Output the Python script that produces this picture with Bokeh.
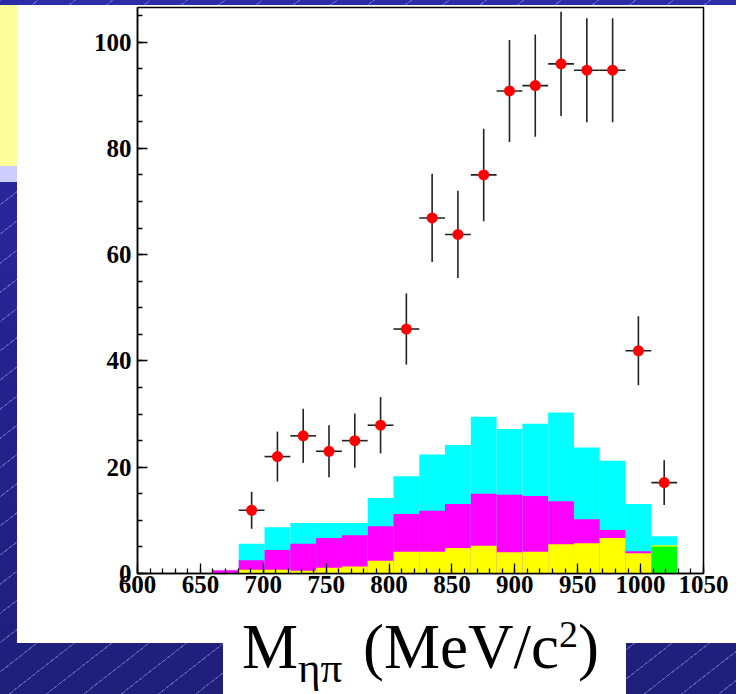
from bokeh.plotting import figure
from bokeh.models import Range1d, SingleIntervalTicker, Div
from bokeh.layouts import column, row
from bokeh.embed import file_html
from bokeh.resources import INLINE

# ---- data ----
bin_edges = [660, 680.5, 701, 721.5, 742, 762.5, 783, 803.5, 824, 844.5,
             865, 885.5, 906, 926.5, 947, 967.5, 988, 1008.5, 1029]
cyan_top = [0.0, 5.6, 8.7, 9.5, 9.5, 9.5, 14.2, 18.3, 22.4, 24.2,
            29.5, 27.2, 28.2, 30.3, 23.7, 21.2, 13.1, 7.0]
magenta_top = [0.6, 2.5, 4.4, 5.6, 6.7, 7.2, 8.9, 11.2, 11.8, 13.1,
               15.0, 14.8, 14.6, 13.6, 10.2, 8.2, 4.2, 0.0]
yellow_top = [0.0, 0.7, 0.7, 0.5, 1.1, 1.3, 2.4, 4.1, 4.1, 4.8,
              5.2, 4.0, 4.1, 5.5, 5.7, 6.7, 3.8, 5.3]
green_top = [0, 0, 0, 0, 0, 0, 0, 0, 0, 0, 0, 0, 0, 0, 0, 0, 0, 5.1]

data_y = [11.9, 22.0, 25.9, 23.0, 25.0, 27.9, 46.0, 66.9, 63.8, 75.0,
          90.8, 91.8, 95.9, 94.7, 94.7, 41.9, 17.1]
data_err = [3.5, 4.7, 5.1, 4.9, 5.1, 5.3, 6.7, 8.3, 8.2, 8.7,
            9.6, 9.6, 9.8, 9.8, 9.8, 6.5, 4.2]
first_data_bin = 1

x_tick_interval = 50
y_tick_interval = 20

FONT = "Liberation Serif"

# ---- slide background CSS ----
STRIPES = ("repeating-linear-gradient(142deg, rgba(190,190,255,0.38) 0px, "
           "rgba(190,190,255,0.38) 1px, transparent 1px, transparent 23px)")
BLUEGRAD = "linear-gradient(180deg, #2c2ca8 0px, #22228c 400px, #1f1f7a 694px)"

top_strip = Div(width=736, height=5, margin=0, styles={
    "background-image": STRIPES + ", " + BLUEGRAD,
    "background-attachment": "fixed, fixed"})
left_strip = Div(width=17, height=610, margin=0, styles={
    "background-image": ("linear-gradient(180deg, #ffff99 0px, #ffff99 161px, #ccccff 161px, "
                         "#ccccff 177px, transparent 177px), " + STRIPES + ", " + BLUEGRAD),
    "background-attachment": "scroll, fixed, fixed",
})

# ---- figure ----
p = figure(width=719, height=610, output_backend="svg", toolbar_location=None,
           x_range=Range1d(600, 1050), y_range=Range1d(0, 106.5),
           min_border_left=120, min_border_right=33, min_border_top=2,
           min_border_bottom=42, margin=0)
p.background_fill_color = "white"
p.border_fill_color = "white"
p.outline_line_color = "black"
p.outline_line_width = 1.5
p.xgrid.visible = False
p.ygrid.visible = False

lefts = bin_edges[:-1]
rights = bin_edges[1:]
for tops, col in [(cyan_top, "#00ffff"), (magenta_top, "#ff00ff"),
                  (yellow_top, "#ffff00"), (green_top, "#00ff00")]:
    p.quad(left=lefts, right=rights, bottom=0, top=tops,
           fill_color=col, line_color=None)

centers = [(bin_edges[i] + bin_edges[i + 1]) / 2 for i in range(len(bin_edges) - 1)]
xs = centers[first_data_bin:first_data_bin + len(data_y)]
halfw = [(bin_edges[i + 1] - bin_edges[i]) / 2
         for i in range(first_data_bin, first_data_bin + len(data_y))]
p.segment(x0=xs, x1=xs, y0=[y - e for y, e in zip(data_y, data_err)],
          y1=[y + e for y, e in zip(data_y, data_err)], line_color="#222222", line_width=1.6)
p.segment(x0=[x - h for x, h in zip(xs, halfw)], x1=[x + h for x, h in zip(xs, halfw)],
          y0=data_y, y1=data_y, line_color="#222222", line_width=1.6)
p.scatter(xs, data_y, size=11, fill_color="#ff0000", line_color=None)

for ax in (p.xaxis[0], p.yaxis[0]):
    ax.axis_line_color = "black"
    ax.axis_line_width = 1.5
    ax.major_tick_in = 10
    ax.major_tick_out = 0
    ax.minor_tick_in = 5
    ax.minor_tick_out = 0
    ax.major_tick_line_color = "black"
    ax.minor_tick_line_color = "black"
    ax.major_tick_line_width = 1.3
    ax.minor_tick_line_width = 1.3
    ax.major_label_text_font = FONT
    ax.major_label_text_font_style = "bold"
    ax.major_label_text_font_size = "25px"
    ax.major_label_text_color = "black"

p.xaxis[0].ticker = SingleIntervalTicker(interval=x_tick_interval, num_minor_ticks=5)
p.yaxis[0].ticker = SingleIntervalTicker(interval=y_tick_interval, num_minor_ticks=4)
p.xaxis[0].major_label_standoff = 2
p.yaxis[0].major_label_standoff = 6

# ---- bottom band with the axis title M_ηπ (MeV/c²) ----
def block(l, t, w, h):
    return (f'<div style="position:absolute;left:{l}px;top:{t}px;width:{w}px;height:{h}px;'
            f'background-image:{STRIPES}, {BLUEGRAD};background-attachment:fixed, fixed;"></div>')

title_html = (
    f'<div style="position:absolute;left:242px;top:0px;white-space:nowrap;'
    f'font-family:\'{FONT}\';font-size:63px;line-height:63px;color:black;">'
    'M<span style="font-size:43px;line-height:40px;vertical-align:-14px;">ηπ</span>'
    '<span style="margin-left:5px;">&nbsp;(MeV/c</span>'
    '<span style="font-size:38px;line-height:38px;vertical-align:21px;">2</span>)</div>'
)
bottom_html = ('<div style="position:relative;width:736px;height:79px;background:white;">'
               + block(0, 0, 17, 79) + block(0, 28, 223, 51) + block(626, 28, 110, 51)
               + title_html + '</div>')
bottom = Div(text=bottom_html, width=736, height=79, margin=0)

layout = column(top_strip, row(left_strip, p, margin=0, spacing=0), bottom,
                margin=0, spacing=0)

open("out.html", "w").write(file_html(layout, INLINE))
